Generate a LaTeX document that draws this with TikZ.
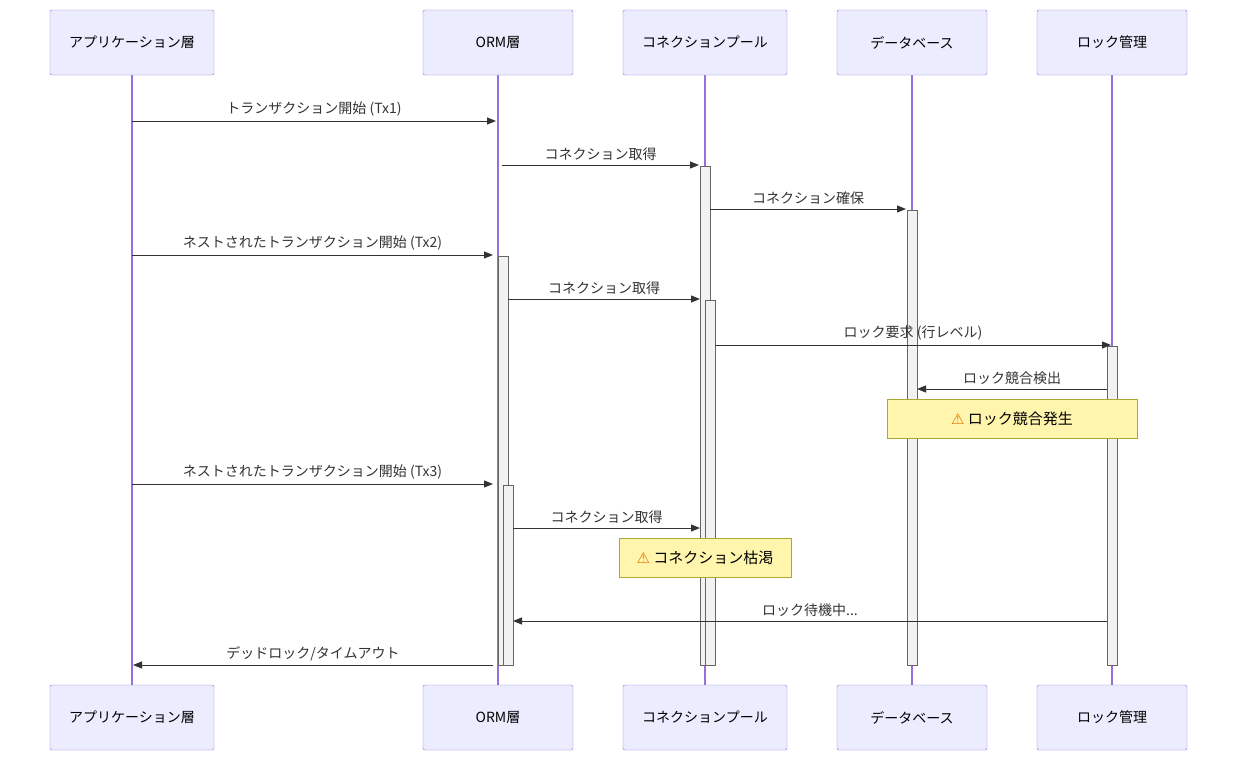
\documentclass[tikz,border=0pt]{standalone}
\usepackage{fontspec}
\setmainfont{Noto Sans CJK JP}
\newfontfamily\djv{DejaVu Sans}
\usetikzlibrary{arrows.meta}
\definecolor{actf}{HTML}{ECECFF}
\definecolor{acts}{HTML}{9370DB}
\definecolor{notef}{HTML}{FFF5AD}
\definecolor{notes}{HTML}{AAAA33}
\definecolor{msg}{HTML}{333333}
\begin{document}
\begin{tikzpicture}[x=1pt,y=-1pt,
 actor/.style={draw=acts,fill=actf,rounded corners=2pt,minimum height=65pt,font=\fontsize{14}{16}\selectfont,inner sep=0pt},
 life/.style={draw=acts,line width=1.2pt},
 act/.style={draw=black!60,fill=black!5},
 note/.style={draw=notes,fill=notef,minimum height=39pt,font=\fontsize{15}{17}\selectfont,inner sep=0pt},
 m/.style={draw=msg,line width=1pt,-{Triangle[length=9pt,width=7pt]}},
 lab/.style={font=\fontsize{14}{16}\selectfont,text=msg,above=4pt,inner sep=0pt}]
\useasboundingbox (0,0) rectangle (1237,761);
\foreach \n/\x/\w/\t in {a/132/164/アプリケーション層, o/498/150/ORM層, c/705/164/コネクションプール, d/912/150/データベース, l/1112/150/ロック管理}{
 \draw[life] (\x,75) -- (\x,685);
 \node[actor,minimum width=\w pt] (\n t) at (\x,42.5) {\t};
 \node[actor,minimum width=\w pt] (\n b) at (\x,717.5) {\t};
}
\draw[act] (700,166) rectangle (710,665);
\draw[act] (907,210) rectangle (917,665);
\draw[act] (498,256) rectangle (508,665);
\draw[act] (705,300) rectangle (715,665);
\draw[act] (1107,346) rectangle (1117,665);
\draw[act] (503,485) rectangle (513,665);
\coordinate (a1) at (132,121); \coordinate (o1) at (496,121);
\draw[m] (a1) -- node[lab]{トランザクション開始 (Tx1)} (o1);
\coordinate (o2) at (502,165); \coordinate (c2) at (699,165);
\draw[m] (o2) -- node[lab]{コネクション取得} (c2);
\coordinate (c3) at (710,209); \coordinate (d3) at (906,209);
\draw[m] (c3) -- node[lab]{コネクション確保} (d3);
\coordinate (a4) at (132,255); \coordinate (o4) at (493,255);
\draw[m] (a4) -- node[lab]{ネストされたトランザクション開始 (Tx2)} (o4);
\coordinate (o5) at (508,299); \coordinate (c5) at (700,299);
\draw[m] (o5) -- node[lab]{コネクション取得} (c5);
\coordinate (c6) at (715,345); \coordinate (l6) at (1111,345);
\draw[m] (c6) -- node[lab]{ロック要求 (行レベル)} (l6);
\coordinate (l7) at (1107,389); \coordinate (d7) at (917,389);
\draw[m] (l7) -- node[lab]{ロック競合検出} (d7);
\node[note,minimum width=250pt] (n1) at (1012,418.5) {{\djv\textcolor{orange!90!black}{⚠}} ロック競合発生};
\coordinate (a8) at (132,484); \coordinate (o8) at (493,484);
\draw[m] (a8) -- node[lab]{ネストされたトランザクション開始 (Tx3)} (o8);
\coordinate (o9) at (513,528); \coordinate (c9) at (700,528);
\draw[m] (o9) -- node[lab]{コネクション取得} (c9);
\node[note,minimum width=172pt] (n2) at (705,557.5) {{\djv\textcolor{orange!90!black}{⚠}} コネクション枯渇};
\coordinate (l10) at (1107,621); \coordinate (o10) at (513,621);
\draw[m] (l10) -- node[lab]{ロック待機中...} (o10);
\coordinate (o11) at (493,665); \coordinate (a11) at (133,665);
\draw[m] (o11) -- node[lab]{デッドロック/タイムアウト} (a11);
\end{tikzpicture}
\end{document}
